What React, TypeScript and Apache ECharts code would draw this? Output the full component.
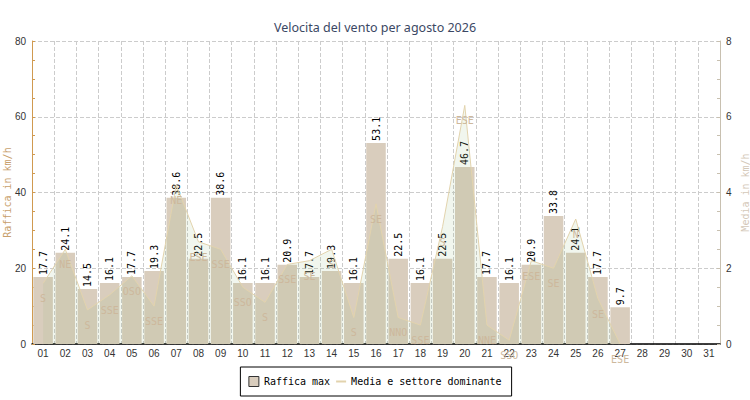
import React, { useEffect, useRef } from "react";
import * as echarts from "echarts";

const days = ["01","02","03","04","05","06","07","08","09","10","11","12","13","14","15","16","17","18","19","20","21","22","23","24","25","26","27","28","29","30","31"];
const gust = [17.7, 24.1, 14.5, 16.1, 17.7, 19.3, 38.6, 22.5, 38.6, 16.1, 16.1, 20.9, 17.7, 19.3, 16.1, 53.1, 22.5, 16.1, 22.5, 46.7, 17.7, 16.1, 20.9, 33.8, 24.1, 17.7, 9.7, null, null, null, null];
const avgSpeed = [1.6, 2.5, 0.9, 1.3, 1.8, 1.0, 4.2, 2.7, 2.5, 1.5, 1.1, 2.1, 2.2, 2.5, 0.7, 3.7, 0.7, 0.5, 3.1, 6.3, 0.5, 0.1, 2.2, 2.0, 3.3, 1.2, 0.0, null, null, null, null];
const directions = ["S","NE","S","SSE","OSO","SSE","NE","ESE","SSE","SSO","S","SSE","SE","S","S","SE","NNO","SSE","S","ESE","NNE","SSO","ESE","SE","N","SE","ESE","","","",""];
const leftTicks = { min: 0, max: 80, interval: 20 };
const rightTicks = { min: 0, max: 8, interval: 2 };

const MONO = "DejaVu Sans Mono";

export default function App() {
  const ref = useRef<HTMLDivElement>(null);
  useEffect(() => {
    document.body.style.margin = "0";
    const chart = echarts.init(ref.current!, null, { renderer: "svg" });
    chart.setOption({
      animation: false,
      title: {
        text: "Velocita del vento per agosto 2026",
        left: "center",
        top: 16,
        textStyle: { fontSize: 12.5, fontWeight: "normal", color: "#3b4864", fontFamily: "Noto Sans" },
      },
      legend: {
        bottom: 4,
        left: "center",
        borderColor: "#000",
        borderWidth: 1,
        padding: [9, 10, 9, 8],
        itemWidth: 10,
        itemHeight: 10,
        itemGap: 5,
        textStyle: { fontFamily: MONO, fontSize: 10, color: "#000" },
        data: [
          { name: "Raffica max", icon: "rect", itemStyle: { borderColor: "#333", borderWidth: 1 } },
          { name: "Media e settore dominante" },
        ],
      },
      grid: { left: 32, right: 30, top: 41, bottom: 56, containLabel: false, outerBoundsMode: "none" },
      xAxis: {
        type: "category",
        data: days,
        boundaryGap: true,
        axisLine: { lineStyle: { color: "#000", width: 1.5 } },
        axisTick: { inside: true, length: 4, lineStyle: { color: "#000" } },
        axisLabel: { fontSize: 10, color: "#333", margin: 4, fontFamily: "Liberation Sans" },
        splitLine: { show: true, lineStyle: { type: "dashed", color: "#cccccc" } },
      },
      yAxis: [
        {
          type: "value",
          ...leftTicks,
          name: "Raffica in km/h",
          nameLocation: "middle",
          nameGap: 20,
          nameMoveOverlap: false,
          nameTextStyle: { color: "#c8a06c", fontFamily: MONO, fontSize: 10 },
          axisLine: { show: true, lineStyle: { color: "#d09a50" } },
          axisTick: { show: true, inside: true, length: 3, lineStyle: { color: "#d09a50" } },
          minorTick: { show: true, splitNumber: 4, length: 3, lineStyle: { color: "#d09a50" } },
          axisLabel: { color: "#333", fontSize: 10, margin: 6, fontFamily: "Liberation Sans" },
          splitLine: { show: true, lineStyle: { type: "dashed", color: "#cccccc" } },
        },
        {
          type: "value",
          ...rightTicks,
          position: "right",
          name: "Media in km/h",
          nameLocation: "middle",
          nameGap: 20,
          nameMoveOverlap: false,
          nameTextStyle: { color: "#d4c8b8", fontFamily: MONO, fontSize: 10 },
          axisLine: { show: true, lineStyle: { color: "#c8c0b0" } },
          axisTick: { show: true, inside: true, length: 3, lineStyle: { color: "#c8c0b0" } },
          minorTick: { show: true, splitNumber: 4, length: 3, lineStyle: { color: "#c8c0b0" } },
          axisLabel: { color: "#333", fontSize: 10, margin: 6, fontFamily: "Liberation Sans" },
          splitLine: { show: false },
        },
      ],
      series: [
        {
          name: "Raffica max",
          type: "bar",
          data: gust,
          barCategoryGap: "12%",
          itemStyle: { color: "#d9cdbd" },
          label: {
            show: true,
            position: "top",
            rotate: 90,
            align: "left",
            verticalAlign: "middle",
            distance: 2,
            fontFamily: MONO,
            fontSize: 10,
            color: "#000",
            formatter: (p: any) => (p.value == null ? "" : Number(p.value).toFixed(1)),
          },
        },
        {
          name: "Media e settore dominante",
          type: "line",
          yAxisIndex: 1,
          data: avgSpeed,
          z: 3,
          symbol: "circle",
          symbolSize: 1,
          showAllSymbol: true,
          itemStyle: { color: "rgba(0,0,0,0)" },
          lineStyle: { color: "#e2d3ad", width: 1 },
          areaStyle: { color: "rgba(150,190,130,0.19)" },
          label: {
            show: true,
            position: "bottom",
            distance: 10,
            fontFamily: MONO,
            fontSize: 10,
            color: "#cdb89c",
            formatter: (p: any) => directions[p.dataIndex] || "",
          },
        },
      ],
    });
    return () => chart.dispose();
  }, []);
  return <div ref={ref} style={{ width: 750, height: 400 }} />;
}
